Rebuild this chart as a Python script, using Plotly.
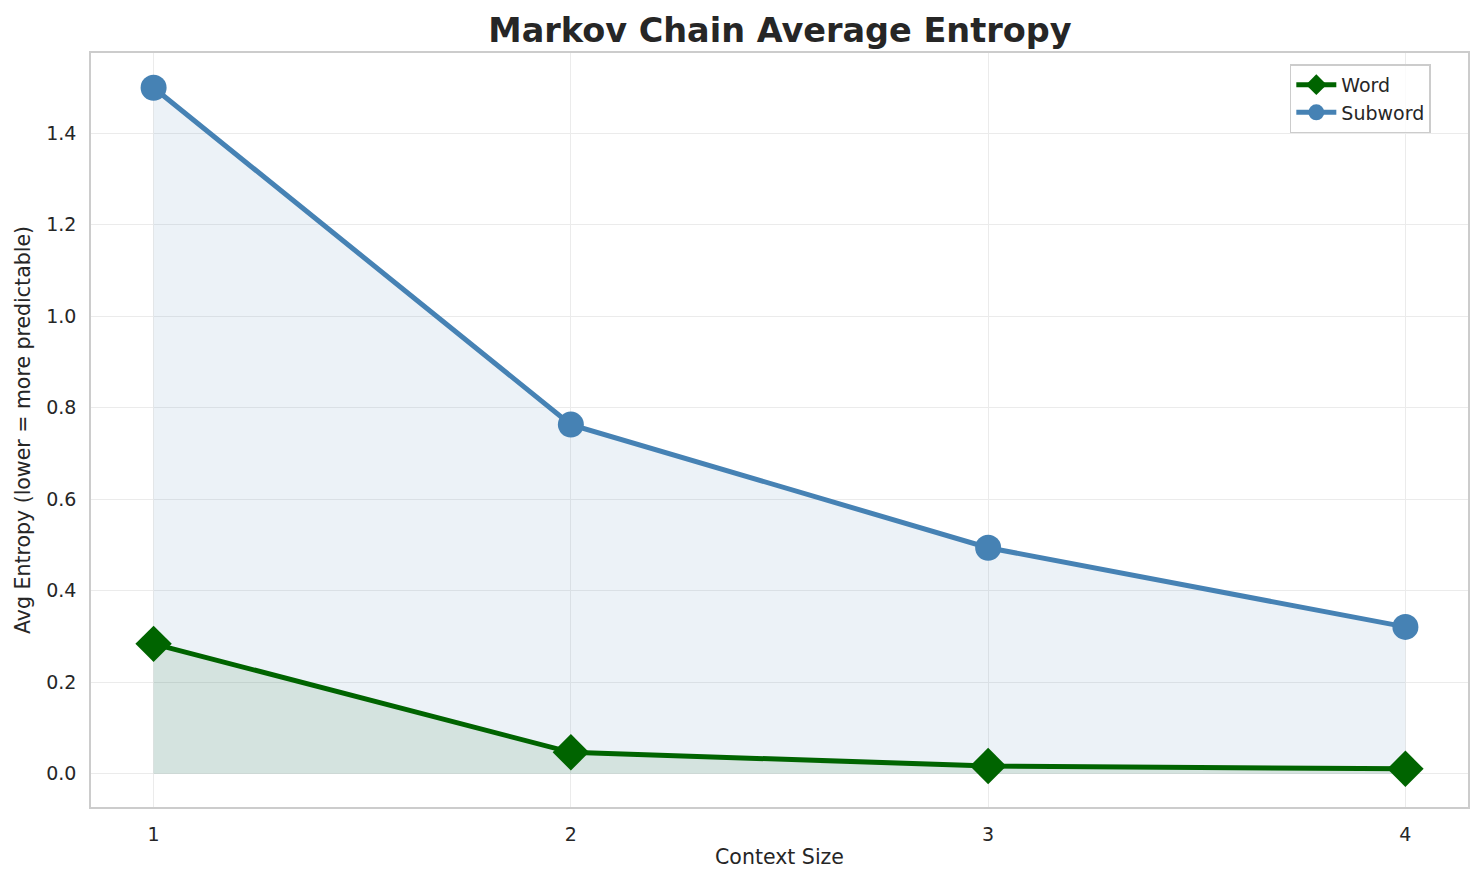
import plotly.graph_objects as go

# data
context_size = [1, 2, 3, 4]
word_entropy = [0.284, 0.047, 0.017, 0.011]
subword_entropy = [1.499, 0.763, 0.494, 0.321]

font = "DejaVu Sans"
dark = "#262626"
grid = "#ebebeb"

fig = go.Figure()

# fills first so they sit under the lines
fig.add_trace(go.Scatter(x=context_size, y=word_entropy, mode="none",
                         fill="tozeroy", fillcolor="rgba(0,100,0,0.1)",
                         showlegend=False, hoverinfo="skip"))
fig.add_trace(go.Scatter(x=context_size, y=subword_entropy, mode="none",
                         fill="tozeroy", fillcolor="rgba(70,130,180,0.1)",
                         showlegend=False, hoverinfo="skip"))

fig.add_trace(go.Scatter(
    x=context_size, y=word_entropy, mode="lines+markers", name="Word",
    line=dict(color="#006400", width=5),
    marker=dict(symbol="diamond", size=28, color="#006400")))
fig.add_trace(go.Scatter(
    x=context_size, y=subword_entropy, mode="lines+markers", name="Subword",
    line=dict(color="#4682b4", width=5),
    marker=dict(symbol="circle", size=26, color="#4682b4")))

axis_common = dict(showgrid=True, gridcolor=grid, gridwidth=1.3,
                   showline=True, linecolor="#cccccc", linewidth=1.5, mirror=True,
                   zeroline=False, ticks="", ticklabelstandoff=9,
                   tickfont=dict(family=font, size=19, color=dark))

fig.update_xaxes(range=[0.85, 4.15], tickvals=context_size,
                 title=dict(text="Context Size", font=dict(family=font, size=20.5, color=dark), standoff=6),
                 **axis_common)
fig.update_yaxes(range=[-0.0725, 1.575], dtick=0.2, tickformat=".1f",
                 title=dict(text="Avg Entropy (lower = more predictable)",
                            font=dict(family=font, size=20.5, color=dark), standoff=10),
                 **axis_common)

fig.update_layout(
    width=1476, height=877,
    paper_bgcolor="white", plot_bgcolor="white",
    margin=dict(l=83, r=16, t=45, b=78),
    title=dict(text="<b>Markov Chain Average Entropy</b>", x=0.523, xanchor="center",
               y=0.975, yanchor="middle",
               font=dict(family=font, size=33.5, color=dark)),
    legend=dict(x=0.973, y=0.985, xanchor="right", yanchor="top",
                bgcolor="rgba(255,255,255,0.8)", bordercolor="#cccccc", borderwidth=1.5,
                font=dict(family=font, size=19, color=dark), itemwidth=40),
    showlegend=True,
)

fig.write_html("out.html")
